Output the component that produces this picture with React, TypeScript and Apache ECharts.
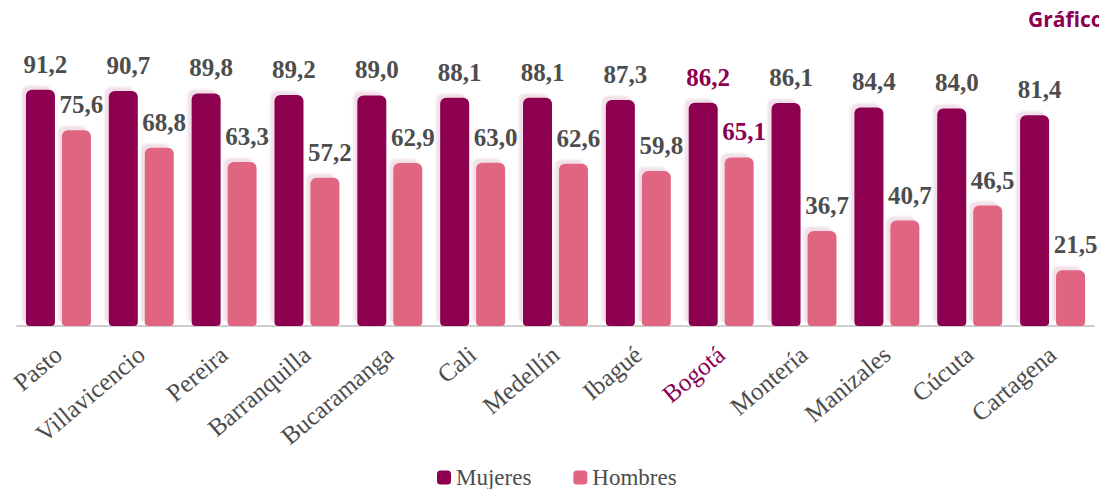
import React, { useEffect, useRef } from "react";
import * as echarts from "echarts";

const categories = ["Pasto", "Villavicencio", "Pereira", "Barranquilla", "Bucaramanga", "Cali", "Medellín", "Ibagué", "Bogotá", "Montería", "Manizales", "Cúcuta", "Cartagena"];
const mujeres = [91.2, 90.7, 89.8, 89.2, 89.0, 88.1, 88.1, 87.3, 86.2, 86.1, 84.4, 84.0, 81.4];
const hombres = [75.6, 68.8, 63.3, 57.2, 62.9, 63.0, 62.6, 59.8, 65.1, 36.7, 40.7, 46.5, 21.5];
const highlight = "Bogotá";

const C_M = "#8c0050";
const C_H = "#e06580";
const GRAY = "#4d4d4d";
const SERIF = "'Liberation Serif', 'DejaVu Serif', serif";

const fmt = (v: number) => v.toFixed(1).replace(".", ",");

export default function App() {
  const ref = useRef<HTMLDivElement>(null);
  useEffect(() => {
    const chart = echarts.init(ref.current!, undefined, { renderer: "svg" });
    const mkData = (arr: number[]) =>
      arr.map((v, i) =>
        categories[i] === highlight ? { value: v, label: { color: C_M } } : { value: v }
      );
    const itemStyle = (color: string) => ({
      color,
      borderRadius: [6, 6, 4, 4],
      shadowColor: "rgba(140,0,80,0.12)",
      shadowOffsetX: -4,
      shadowOffsetY: -4,
      shadowBlur: 2,
    });
    const label = {
      show: true,
      position: "top",
      distance: 13,
      offset: [5, 0],
      fontFamily: SERIF,
      fontWeight: "bold",
      fontSize: 25,
      color: GRAY,
      formatter: (p: any) => fmt(p.value),
    };
    chart.setOption({
      animation: false,
      grid: { left: 17, right: 5, top: 67, bottom: 163 },
      legend: {
        left: 432,
        top: 461,
        itemWidth: 14,
        itemHeight: 14,
        itemGap: 42,
        icon: "roundRect",
        textStyle: { fontFamily: SERIF, fontSize: 23, color: GRAY },
        data: ["Mujeres", "Hombres"],
      },
      xAxis: {
        type: "category",
        data: categories,
        axisLine: { lineStyle: { color: "#bfbfbf", width: 1.5 } },
        axisTick: { length: 8, lineStyle: { color: "#bfbfbf", width: 1.5 } },
        axisLabel: {
          rotate: 40,
          margin: 25,
          interval: 0,
          fontFamily: SERIF,
          fontSize: 25,
          color: (v: string) => (v === highlight ? C_M : GRAY),
        },
      },
      yAxis: { type: "value", min: 0, max: 100, show: false },
      graphic: [
        {
          type: "text",
          x: 1028,
          y: 8,
          style: {
            text: "Gráfico",
            fontFamily: "'Open Sans', sans-serif",
            fontWeight: "bold",
            fontSize: 21,
            fill: C_M,
          },
        },
      ],
      series: [
        {
          name: "Mujeres",
          type: "bar",
          data: mkData(mujeres),
          barWidth: 29,
          barGap: "24%",
          itemStyle: itemStyle(C_M),
          label,
        },
        {
          name: "Hombres",
          type: "bar",
          data: mkData(hombres),
          barWidth: 29,
          itemStyle: itemStyle(C_H),
          label,
        },
      ],
    });
    return () => chart.dispose();
  }, []);
  return (
    <div
      ref={ref}
      style={{ position: "fixed", left: 0, top: 0, width: 1099, height: 489, background: "#fff" }}
    />
  );
}
